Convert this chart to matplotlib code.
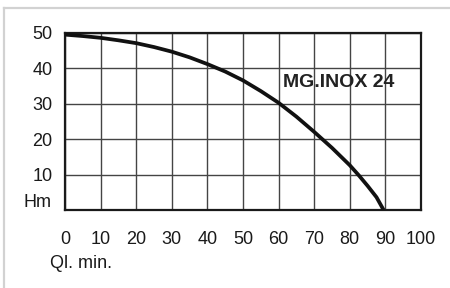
import numpy as np
import matplotlib.pyplot as plt
from matplotlib.lines import Line2D

plt.rcParams['font.family'] = ['Liberation Sans', 'DejaVu Sans']

# pump curve (every 5 l/min)
flow = [0, 5, 10, 15, 20, 25, 30, 35, 40, 45, 50, 55, 60, 65, 70, 75, 80, 82.5, 85, 87.5, 89.5]
head = [49.4, 49.0, 48.5, 47.8, 47.0, 45.9, 44.6, 43.0, 41.1, 39.0, 36.5, 33.5, 30.2, 26.3, 22.0, 17.5, 12.6, 9.8, 6.8, 3.6, 0.0]

x_ticks = [0, 10, 20, 30, 40, 50, 60, 70, 80, 90, 100]
y_ticks = [10, 20, 30, 40, 50]
model = 'MG.INOX 24'

fig = plt.figure(figsize=(4.5, 2.88), dpi=100)
ax = fig.add_axes([65 / 450, 78 / 288, 356 / 450, 177.5 / 288])

# light grey frame (top and left edges only)
fig.add_artist(Line2D([4 / 450, 4 / 450], [0, 280 / 288], color='#d2d2d2', lw=1.6))
fig.add_artist(Line2D([4 / 450, 1], [280 / 288, 280 / 288], color='#d2d2d2', lw=1.6))

ax.plot(flow, head, color='#111111', lw=2.7, solid_capstyle='butt',
        solid_joinstyle='round', zorder=3)

ax.set_xlim(0, 100)
ax.set_ylim(0, 50)
ax.set_xticks(x_ticks)
ax.set_yticks(y_ticks)
ax.set_xticklabels([str(v) for v in x_ticks])
ax.set_yticklabels([str(v) for v in y_ticks])
ax.tick_params(length=0, labelsize=13, colors='#1a1a1a')
ax.tick_params(axis='x', pad=15)
ax.tick_params(axis='y', pad=9)
ax.grid(True, color='#444444', lw=1.0)
ax.set_axisbelow(True)
for s in ax.spines.values():
    s.set_color('#1a1a1a')
    s.set_linewidth(1.6)

ax.text(-3.8, 2.2, 'Hm', ha='right', va='center', fontsize=13, color='#1a1a1a')
fig.text(50 / 450, 1 - 263 / 288, 'Ql. min.', ha='left', va='center', fontsize=13, color='#1a1a1a')
ax.text(61.2, 35.8, model, ha='left', va='center', fontsize=14, fontweight='bold', color='#222222')

fig.savefig('out.png', dpi=100, facecolor='white')
